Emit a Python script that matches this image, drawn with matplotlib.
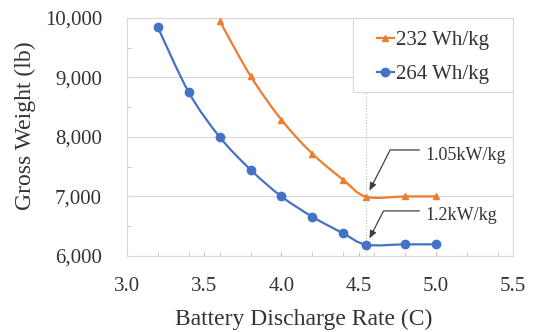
import matplotlib
matplotlib.use("Agg")
import matplotlib.pyplot as plt
import numpy as np
from matplotlib.path import Path
from matplotlib.patches import PathPatch, Rectangle
from matplotlib.lines import Line2D
from matplotlib.ticker import MultipleLocator, StrMethodFormatter

# data
rates_264 = [3.2, 3.4, 3.6, 3.8, 4.0, 4.2, 4.4, 4.55, 4.8, 5.0]
weight_264 = [9840, 8750, 8000, 7450, 7000, 6660, 6380, 6190, 6195, 6195]

rates_232 = [3.6, 3.8, 4.0, 4.2, 4.4, 4.55, 4.8, 5.0]
weight_232 = [9950, 9025, 8290, 7720, 7280, 6995, 7000, 7000]

series_labels = ["232 Wh/kg", "264 Wh/kg"]
callouts = ["1.05kW/kg", "1.2kW/kg"]
knee_idx_264 = 7
knee_idx_232 = 5

orange = "#ED7D31"
blue = "#4472C4"
grid_c = "#D9D9D9"
text_c = "#333333"

plt.rcParams["font.family"] = ["Liberation Serif", "DejaVu Serif"]


def smooth_path(x, y):
    # Excel-like smoothed line: Catmull-Rom segments as cubic beziers
    pts = np.column_stack([x, y]).astype(float)
    n = len(pts)
    verts = [pts[0]]
    codes = [Path.MOVETO]
    for i in range(n - 1):
        p0 = pts[i - 1] if i > 0 else pts[i]
        p1 = pts[i]
        p2 = pts[i + 1]
        p3 = pts[i + 2] if i + 2 < n else pts[i + 1]
        c1 = p1 + (p2 - p0) / 6.0
        c2 = p2 - (p3 - p1) / 6.0
        verts += [c1, c2, p2]
        codes += [Path.CURVE4] * 3
    return Path(verts, codes)


fig = plt.figure(figsize=(5.36, 3.32), dpi=100)
ax = fig.add_axes([0.237, 0.229, 0.720, 0.717])

ax.set_xlim(3.0, 5.5)
ax.set_ylim(6000, 10000)

# knee reference line
ax.axvline(rates_264[knee_idx_264], color="#BFBFBF", ls=":", lw=0.8, zorder=1)

for xs, ys, col, mk, ms in [(rates_232, weight_232, orange, "^", 5),
                            (rates_264, weight_264, blue, "o", 6)]:
    ax.add_patch(PathPatch(smooth_path(xs, ys), facecolor="none",
                           edgecolor=col, lw=1.6, zorder=3))
    ax.plot(xs, ys, ls="none", marker=mk, ms=ms, color=col, zorder=4)

ax.xaxis.set_major_locator(MultipleLocator(0.5))
ax.xaxis.set_minor_locator(MultipleLocator(0.2))
ax.yaxis.set_major_locator(MultipleLocator(1000))
ax.yaxis.set_minor_locator(MultipleLocator(500))
ax.xaxis.set_major_formatter(StrMethodFormatter("{x:.1f}"))
ax.yaxis.set_major_formatter(StrMethodFormatter("{x:,.0f}"))

ax.grid(axis="y", which="major", color=grid_c, lw=0.8)
ax.set_axisbelow(True)
for s in ax.spines.values():
    s.set_color(grid_c)
    s.set_linewidth(0.8)

ax.tick_params(axis="x", which="both", direction="in", length=3, color="#BFBFBF",
               labelsize=15, labelcolor=text_c, pad=15)
ax.tick_params(axis="y", which="major", length=0, labelsize=15,
               labelcolor=text_c, pad=18)
ax.tick_params(axis="y", which="minor", direction="in", length=3, color="#BFBFBF")

ax.set_xlabel("Battery Discharge Rate (C)", fontsize=17, color=text_c)
ax.set_ylabel("Gross Weight (lb)", fontsize=17, color=text_c)
ax.xaxis.set_label_coords(0.459, -0.22)
ax.yaxis.set_label_coords(-0.235, 0.546)

# legend box (frame drawn separately for the wider side padding)
ax.add_patch(Rectangle((0.585, 0.689), 0.415, 0.311, transform=ax.transAxes,
                       facecolor="white", edgecolor=grid_c, lw=0.8, zorder=6))
handles = [Line2D([], [], color=orange, marker="^", ms=5, lw=1.6),
           Line2D([], [], color=blue, marker="o", ms=6, lw=1.6)]
leg = ax.legend(handles, series_labels, loc="center left",
                bbox_to_anchor=(0.648, 0.834), borderaxespad=0, borderpad=0,
                fontsize=15, handlelength=0.8, handletextpad=0.1,
                labelspacing=0.7, frameon=False)
leg.set_zorder(7)
for t in leg.get_texts():
    t.set_color(text_c)

# callouts at the knee points
targets = [(rates_232[knee_idx_232], weight_232[knee_idx_232], 0.424),
           (rates_264[knee_idx_264], weight_264[knee_idx_264], 0.168)]
for label, (tx, ty, fy) in zip(callouts, targets):
    ax.annotate(label, xy=(tx, ty), xycoords="data",
                xytext=(0.772, fy), textcoords="axes fraction",
                ha="left", va="center", fontsize=13, color=text_c,
                arrowprops=dict(arrowstyle="-|>,head_length=0.35,head_width=0.15",
                                connectionstyle="angle,angleA=0,angleB=63,rad=0",
                                color="#404040", lw=0.9, relpos=(0, 0.8),
                                shrinkA=2, shrinkB=5),
                zorder=5)

fig.savefig("out.png", dpi=100)
